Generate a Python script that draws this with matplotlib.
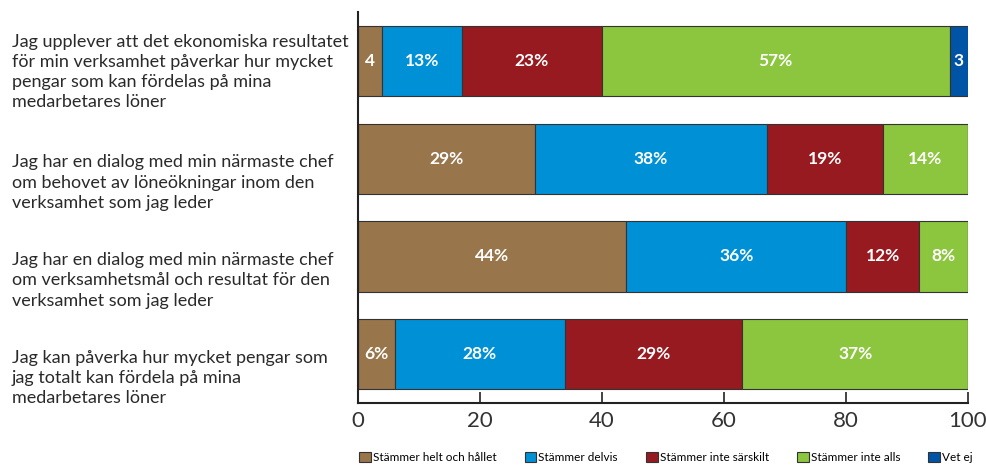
import matplotlib
matplotlib.use("Agg")
import matplotlib.pyplot as plt
import matplotlib.transforms as mtransforms
from matplotlib.patches import Patch
import numpy as np

plt.rcParams['font.family'] = ['Lato', 'DejaVu Sans']

questions = [
    "Jag upplever att det ekonomiska resultatet\nför min verksamhet påverkar hur mycket\npengar som kan fördelas på mina\nmedarbetares löner",
    "Jag har en dialog med min närmaste chef\nom behovet av löneökningar inom den\nverksamhet som jag leder",
    "Jag har en dialog med min närmaste chef\nom verksamhetsmål och resultat för den\nverksamhet som jag leder",
    "Jag kan påverka hur mycket pengar som\njag totalt kan fördela på mina\nmedarbetares löner",
]
series_names = ["Stämmer helt och hållet", "Stämmer delvis", "Stämmer inte särskilt",
                "Stämmer inte alls", "Vet ej"]
helt = [4, 29, 44, 6]
delvis = [13, 38, 36, 28]
inte_sarskilt = [23, 19, 12, 29]
inte_alls = [57, 14, 8, 37]
vet_ej = [3, 0, 0, 0]
labels = [
    ["4", "29%", "44%", "6%"],
    ["13%", "38%", "36%", "28%"],
    ["23%", "19%", "12%", "29%"],
    ["57%", "14%", "8%", "37%"],
    ["3", "", "", ""],
]
xticks = [0, 20, 40, 60, 80, 100]
colors = ["#98754A", "#0090D6", "#961A20", "#8CC63F", "#0054A6"]

series = [helt, delvis, inte_sarskilt, inte_alls, vet_ej]

fig = plt.figure(figsize=(9.86, 4.68), dpi=100)
ax = fig.add_axes([0.363, 0.139, 0.6187, 0.835])

y = np.arange(len(questions))
left = np.zeros(len(questions))
for vals, col, labs in zip(series, colors, labels):
    vals = np.array(vals, dtype=float)
    bars = ax.barh(y, vals, left=left, height=0.72, color=col,
                   edgecolor="#333333", linewidth=0.8)
    for b, v, lab in zip(bars, vals, labs):
        if v > 0 and lab:
            ax.text(b.get_x() + b.get_width() / 2, b.get_y() + b.get_height() / 2,
                    lab, ha="center", va="center", color="white",
                    fontsize=12.5, fontweight="bold")
    left += vals

ax.set_xlim(0, 100)
ax.set_ylim(3.5, -0.5)
ax.set_yticks([])
ax.set_xticks(xticks)
ax.set_xticklabels([str(t) for t in xticks], fontsize=16, color="#333333")
ax.tick_params(axis="x", direction="in", length=8, width=1.2, pad=6, color="#222222")
for s in ["top", "right"]:
    ax.spines[s].set_visible(False)
for s in ["left", "bottom"]:
    ax.spines[s].set_linewidth(1.5)
    ax.spines[s].set_color("#222222")

trans = mtransforms.blended_transform_factory(fig.transFigure, ax.transData)
offsets = [0.11, 0.245, 0.245, 0.245]
for i, q in enumerate(questions):
    fig.text(0.012, i + offsets[i], q, transform=trans, ha="left", va="center",
             fontsize=13, linespacing=1.32, color="#2a2a2a")

handles = [Patch(facecolor=c, edgecolor="#333333", linewidth=0.8) for c in colors]
fig.legend(handles, series_names, loc="lower left", bbox_to_anchor=(0.357, -0.005),
           ncol=5, frameon=False, fontsize=8.5, handlelength=1.0, handleheight=1.0,
           handletextpad=0.15, columnspacing=2.4, borderaxespad=0.2)

fig.savefig("out.png", dpi=100)
